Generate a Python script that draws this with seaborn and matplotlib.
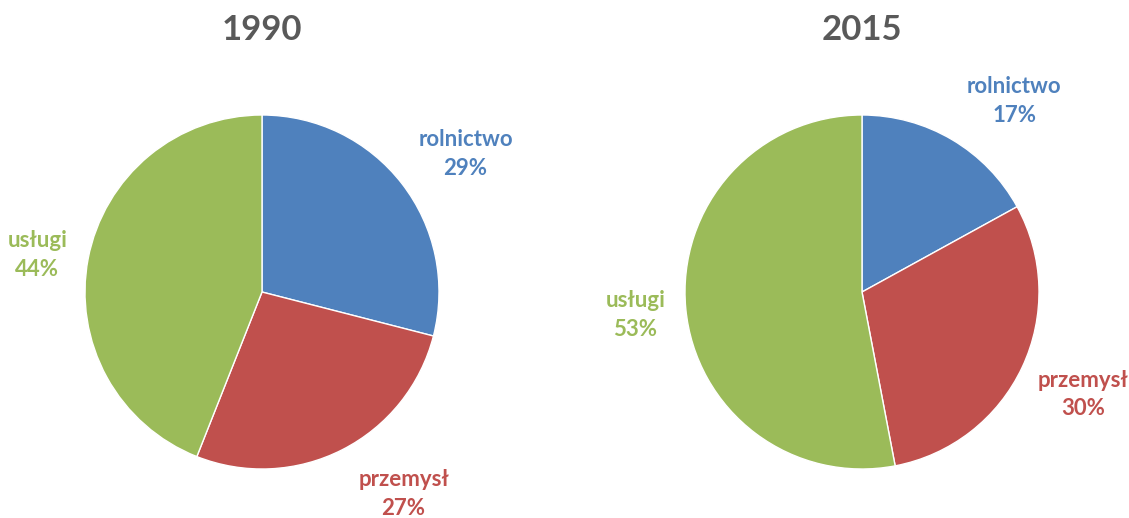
import seaborn as sns
import matplotlib.pyplot as plt

sectors = ['rolnictwo', 'przemysł', 'usługi']
shares_1990 = [29, 27, 44]
shares_2015 = [17, 30, 53]
years = ['1990', '2015']
colors = ['#4F81BD', '#C0504D', '#9BBB59']

sns.set_theme(style='white')
plt.rcParams['font.family'] = ['Lato', 'DejaVu Sans']

fig = plt.figure(figsize=(11.29, 5.18), dpi=100)

# label positions in pie units (radius = 1)
label_pos = {
    '1990': [(1.15, 0.78), (0.80, -1.14), (-1.27, 0.21)],
    '2015': [(0.86, 1.08), (1.25, -0.58), (-1.28, -0.13)],
}

for i, (year, shares) in enumerate(zip(years, [shares_1990, shares_2015])):
    left = (85 + 600 * i) / 1129
    ax = fig.add_axes([left, 49 / 518, 354 / 1129, 354 / 518])
    ax.pie(shares, colors=colors, startangle=90, counterclock=False,
           wedgeprops=dict(edgecolor='white', linewidth=1))
    ax.set_xlim(-1, 1)
    ax.set_ylim(-1, 1)
    ax.set_aspect('equal')
    for (x, y), name, val, c in zip(label_pos[year], sectors, shares, colors):
        ax.text(x, y, f'{name}\n{val}%', color=c, ha='center', va='center',
                fontsize=16, fontweight='bold', linespacing=1.45, clip_on=False)
    fig.text((262 + 600 * i) / 1129, 1 - 30 / 518, year, ha='center', va='center',
             fontsize=25, fontweight='bold', color='#595959')

fig.savefig('out.png', dpi=100, facecolor='white')
